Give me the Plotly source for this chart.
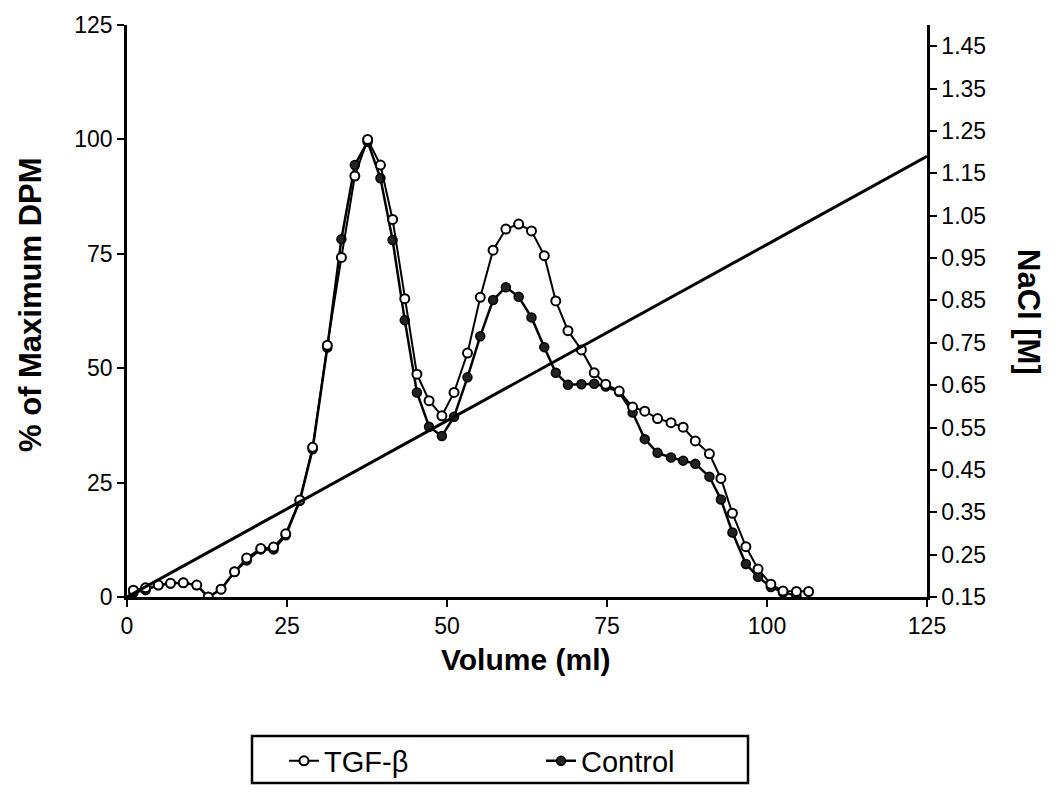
import plotly.graph_objects as go

# Data
volume_ml = [1.0, 2.9, 4.9, 6.8, 8.8, 10.9, 12.7, 14.7, 16.8, 18.7, 20.9, 22.9, 24.8, 27.0, 29.0,
             31.3, 33.5, 35.6, 37.6, 39.6, 41.5, 43.4, 45.3, 47.2, 49.2, 51.1, 53.2, 55.2, 57.2,
             59.2, 61.2, 63.2, 65.2, 67.0, 68.9, 71.0, 73.0, 74.8, 76.9, 79.0, 80.9, 82.9, 85.0,
             86.9, 88.8, 91.0, 92.8, 94.6, 96.7, 98.6, 100.6, 102.5, 104.6, 106.5]

tgf_beta = [1.5, 2.0, 2.6, 3.0, 3.1, 2.6, 0, 1.7, 5.5, 8.5, 10.6, 10.9, 13.8, 21.2, 32.7,
            55.0, 74.2, 92.0, 100, 94.4, 82.5, 65.2, 48.7, 42.9, 39.6, 44.7, 53.3, 65.5, 75.8,
            80.4, 81.5, 80.0, 74.6, 64.7, 58.2, 54.0, 49.0, 46.5, 45.0, 41.5, 40.6, 39.0, 38.1,
            37.1, 34.1, 31.3, 25.9, 18.3, 11.0, 6.1, 2.8, 1.3, 1.2, 1.2]

control = [1.0, 1.5, 2.6, 3.0, 3.1, 2.6, 0, 1.7, 5.5, 8.0, 10.4, 10.4, 13.5, 21.0, 32.3,
           54.5, 78.2, 94.4, 99.5, 91.5, 78.0, 60.5, 44.7, 37.2, 35.2, 39.4, 48.0, 57.0, 64.9,
           67.7, 65.6, 61.1, 54.6, 49.0, 46.4, 46.5, 46.6, 46.0, 44.8, 40.3, 34.5, 31.5, 30.5,
           29.8, 29.1, 26.3, 21.3, 14.1, 7.2, 4.4, 2.2, 1.0, 0.3]

nacl_volume = [0, 125]
nacl_molar = [0.15, 1.19]

x_ticks = [0, 25, 50, 75, 100, 125]
y_ticks = [0, 25, 50, 75, 100, 125]
y2_ticks = [0.15, 0.25, 0.35, 0.45, 0.55, 0.65, 0.75, 0.85, 0.95, 1.05, 1.15, 1.25, 1.35, 1.45]

FONT = "Liberation Sans, Arial, sans-serif"

# The page body has an 8px margin; screen coords = figure coords + 8
OFF = 8
FIG_W, FIG_H = 1057 - 2 * OFF, 793 - 2 * OFF
# plot-area geometry in screen pixels
L, R, T, B = 127, 927, 25, 597
W, H = R - L, B - T


def px_x(p):
    return (p - L) / W


def px_y(p):
    return (B - p) / H


fig = go.Figure()

fig.add_trace(go.Scatter(
    x=nacl_volume, y=nacl_molar, yaxis="y2", mode="lines",
    line=dict(color="black", width=3), showlegend=False, hoverinfo="skip"))

fig.add_trace(go.Scatter(
    x=volume_ml[:len(control)], y=control, mode="lines+markers", name="Control",
    line=dict(color="black", width=2.5),
    marker=dict(symbol="circle", size=9, color="#222222", line=dict(color="black", width=1.5))))

fig.add_trace(go.Scatter(
    x=volume_ml, y=tgf_beta, mode="lines+markers", name="TGF-β",
    line=dict(color="black", width=2),
    marker=dict(symbol="circle", size=9, color="white", line=dict(color="black", width=2))))

axis_common = dict(
    showline=True, linecolor="black", linewidth=2.5,
    ticks="outside", tickwidth=2, tickcolor="black",
    showgrid=False, zeroline=False, automargin=False,
)

fig.update_layout(
    width=FIG_W, height=FIG_H,
    margin=dict(l=L - OFF, r=FIG_W - (R - OFF), t=T - OFF, b=FIG_H - (B - OFF), autoexpand=False),
    paper_bgcolor="white", plot_bgcolor="white",
    font=dict(family=FONT, color="black", size=24),
    xaxis=dict(
        range=[0, 125], tickvals=x_ticks, ticktext=[str(v) for v in x_ticks],
        ticklen=7, tickfont=dict(size=23, family=FONT), **axis_common),
    yaxis=dict(
        range=[0, 125], tickvals=y_ticks, ticktext=[str(v) for v in y_ticks],
        ticklen=7, tickfont=dict(size=23, family=FONT), **axis_common),
    yaxis2=dict(
        range=[0.15, 1.5], tickvals=y2_ticks, ticktext=[f"{v:.2f}" for v in y2_ticks],
        overlaying="y", side="right",
        ticklen=7, tickfont=dict(size=23, family=FONT), **axis_common),
    legend=dict(
        orientation="h", x=px_x(284), xanchor="left", y=px_y(761), yanchor="middle",
        borderwidth=0, bgcolor="rgba(0,0,0,0)",
        font=dict(size=29, family=FONT), traceorder="reversed",
        entrywidth=212, entrywidthmode="pixels", itemwidth=30),
    shapes=[dict(
        type="rect", xref="paper", yref="paper",
        x0=px_x(252), x1=px_x(748), y0=px_y(783), y1=px_y(736),
        line=dict(color="black", width=2.5), fillcolor="rgba(0,0,0,0)")],
    annotations=[
        dict(text="<b>Volume (ml)</b>", x=px_x(525), y=px_y(659), xref="paper", yref="paper",
             xanchor="center", yanchor="middle",
             showarrow=False, font=dict(size=30, family=FONT)),
        dict(text="<b>% of Maximum DPM</b>", x=px_x(30), y=px_y(305), xref="paper", yref="paper",
             xanchor="center", yanchor="middle",
             showarrow=False, textangle=-90, font=dict(size=31, family=FONT)),
        dict(text="<b>NaCl [M]</b>", x=px_x(1029), y=px_y(312), xref="paper", yref="paper",
             xanchor="center", yanchor="middle",
             showarrow=False, textangle=90, font=dict(size=31, family=FONT)),
    ],
)

fig.write_html("out.html")
